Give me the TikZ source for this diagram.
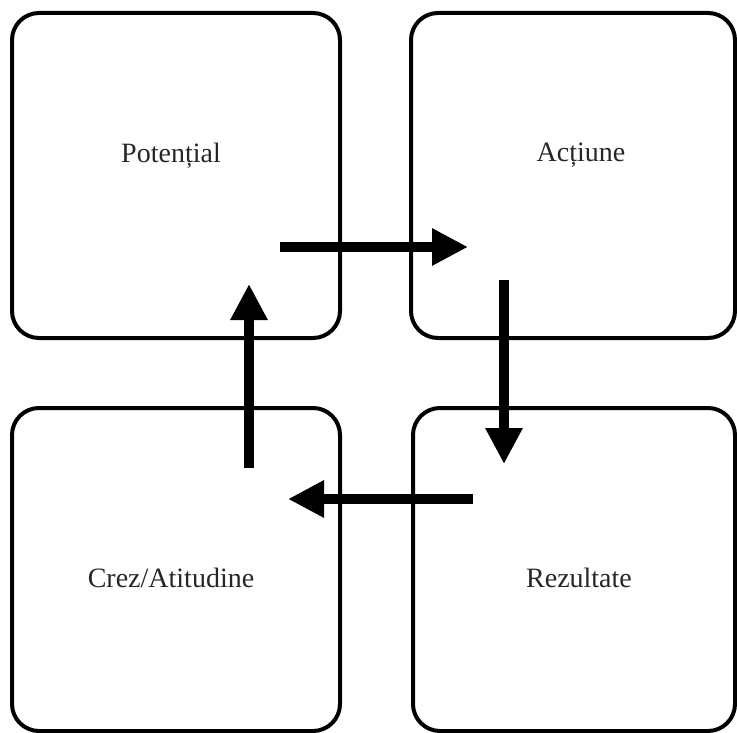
\documentclass[tikz,border=0pt]{standalone}
\usepackage{fontspec}
\setmainfont{Liberation Serif}
\usetikzlibrary{arrows.meta,positioning}

\begin{document}
\begin{tikzpicture}[x=1pt,y=-1pt,
    box/.style={draw,line width=4pt,rounded corners=27pt,inner sep=0pt},
    label text/.style={font=\fontsize{28}{33}\selectfont,text=black!85},
    flow/.style={line width=10pt,-{Triangle[length=36pt,width=35pt]}}]

  \useasboundingbox (0,0) rectangle (737,733);

  % the four boxes
  \node[box,minimum width=328pt,minimum height=325pt] (pot) at (176,175.5) {};
  \node[box,minimum width=324pt,minimum height=325pt] (act) at (573,175.5) {};
  \node[box,minimum width=328pt,minimum height=323pt] (crez) at (176,569.5) {};
  \node[box,minimum width=322pt,minimum height=323pt] (rez) at (574,569.5) {};

  \node[label text] at ([xshift=-5pt,yshift=20pt]pot.center) {Potențial};
  \node[label text] at ([xshift=8pt,yshift=20pt]act.center) {Acțiune};
  \node[label text] at ([xshift=-5pt,yshift=-8pt]crez.center) {Crez/Atitudine};
  \node[label text] at ([xshift=5pt,yshift=-8pt]rez.center) {Rezultate};

  % arrow ends
  \coordinate (a1) at (280,247);
  \coordinate (a2) at (468,247);
  \coordinate (b1) at (504,280);
  \coordinate (b2) at (504,464);
  \coordinate (c1) at (473,499);
  \coordinate (c2) at (288,499);
  \coordinate (d1) at (249,468);
  \coordinate (d2) at (249,284);

  \draw[flow] (a1) -- (a2);
  \draw[flow] (b1) -- (b2);
  \draw[flow] (c1) -- (c2);
  \draw[flow] (d1) -- (d2);
\end{tikzpicture}
\end{document}
